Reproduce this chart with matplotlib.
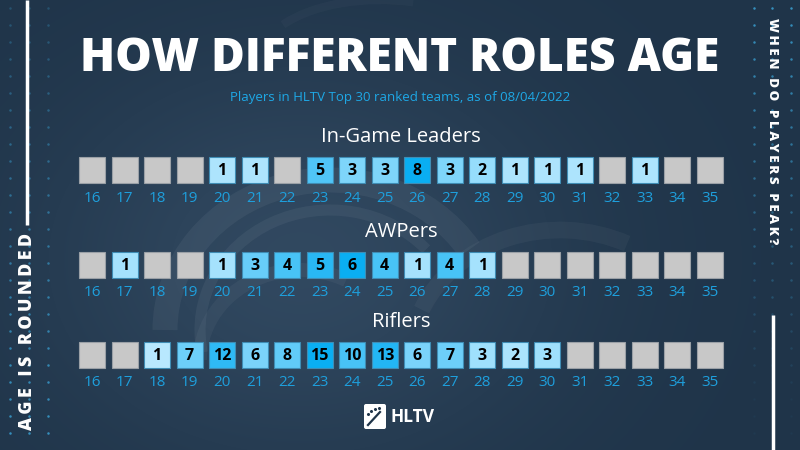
import numpy as np
import matplotlib
matplotlib.use('Agg')
import matplotlib.pyplot as plt
from matplotlib.patches import FancyBboxPatch, Arc
from matplotlib.colors import to_rgb

plt.rcParams['font.family'] = ['Open Sans', 'DejaVu Sans']

# data: number of players per (rounded) age, by role
ages = list(range(16, 36))
roles = ['In-Game Leaders', 'AWPers', 'Riflers']
igl_counts = [0, 0, 0, 0, 1, 1, 0, 5, 3, 3, 8, 3, 2, 1, 1, 1, 0, 1, 0, 0]
awp_counts = [0, 1, 0, 0, 1, 3, 4, 5, 6, 4, 1, 4, 1, 0, 0, 0, 0, 0, 0, 0]
rifler_counts = [0, 0, 1, 7, 12, 6, 8, 15, 10, 13, 6, 7, 3, 2, 3, 0, 0, 0, 0, 0]
title = 'HOW DIFFERENT ROLES AGE'
subtitle = 'Players in HLTV Top 30 ranked teams, as of 08/04/2022'
left_note = 'AGE IS ROUNDED'
right_note = 'WHEN DO PLAYERS PEAK?'

BG = '#1f3449'
LIGHT = np.array(to_rgb('#c4ecff'))
DARK = np.array(to_rgb('#0aaef2'))
EMPTY = '#c8c8c8'
TICK = '#1e9fdc'


def cell_color(v, vmax):
    if v == 0:
        return EMPTY
    t = v / vmax
    return tuple(LIGHT + (DARK - LIGHT) * t)


def spaced(s):
    return '\u2009'.join(s)


fig = plt.figure(figsize=(8, 4.5), dpi=100, facecolor=BG)

# background / decoration axes in pixel units
bg = fig.add_axes([0, 0, 1, 1], zorder=0)
bg.set_xlim(0, 800)
bg.set_ylim(450, 0)
bg.axis('off')

yy, xx = np.mgrid[0:450, 0:800]
glow = np.exp(-(((xx - 300) / 260) ** 2 + ((yy - 260) / 200) ** 2))
base = np.array(to_rgb(BG))
img = base[None, None, :] + glow[..., None] * np.array([0.07, 0.08, 0.09])
bg.imshow(np.clip(img, 0, 1), extent=(0, 800, 450, 0), zorder=0, aspect='auto')

# soft swirl wisps
for cx, cy, w, h, t1, t2, lw, al in [(330, 330, 330, 300, 180, 330, 18, 0.05),
                                      (330, 330, 260, 240, 170, 320, 8, 0.05),
                                      (300, 360, 200, 180, 180, 300, 10, 0.04),
                                      (560, 360, 300, 260, 200, 300, 12, 0.04),
                                      (380, 60, 240, 120, 200, 300, 6, 0.025)]:
    bg.add_patch(Arc((cx, cy), w, h, theta1=t1, theta2=t2, color='white',
                     lw=lw, alpha=al, zorder=1))

# dotted side strips
dot_rows = np.arange(8, 450, 17)
for x in [10, 29, 48]:
    for y in dot_rows:
        a = 0.25 + 0.6 * y / 450
        bg.plot(x, y, 'o', ms=1.8, color='#3aa3d6', alpha=a, mec='none', zorder=2)
for x in [754, 772, 791]:
    for y in dot_rows:
        a = max(0.05, 0.85 - 0.9 * y / 450)
        bg.plot(x, y, 'o', ms=1.8, color='#3aa3d6', alpha=a, mec='none', zorder=2)

bg.plot([27, 27], [0, 225], color='white', lw=2.5, solid_capstyle='butt', zorder=3)
bg.plot([773, 773], [315, 450], color='white', lw=2.5, solid_capstyle='butt', zorder=3)

ttl = bg.text(400, 71, title, color='white', fontsize=36, fontweight='heavy',
              ha='center', va='baseline', zorder=4)
bg.text(400, 101, subtitle, color='#1ea8e6', fontsize=9.5,
        ha='center', va='baseline', zorder=4)
ln = bg.text(28, 332, spaced(left_note), color='white', fontsize=10.5,
             fontweight='heavy', rotation=90, ha='center', va='center', zorder=4)
rn = bg.text(772, 131, spaced(right_note), color='white', fontsize=10.5,
             fontweight='heavy', rotation=-90, ha='center', va='center', zorder=4)

# HLTV logo
bg.add_patch(FancyBboxPatch((364, 404), 22, 25, boxstyle='round,pad=0,rounding_size=2',
                            fc='white', ec='none', zorder=4))
bg.plot([368, 380], [425, 412], color=BG, lw=1.6, zorder=5)
for dx, dy in [(368, 414), (371, 411), (375, 409), (379, 408)]:
    bg.plot(dx, dy, 'o', ms=1.2, color=BG, zorder=5)
bg.text(391, 417, 'HLTV', color='white', fontsize=12.5, fontweight='bold',
        ha='left', va='center', zorder=4)

# grid axes: x in ages, y in pixels
ax = fig.add_axes([0, 0, 1, 1], zorder=1)
ax.patch.set_alpha(0)
px = (35 - 16) / (710 - 92)
x0 = 16 - 92 * px
ax.set_xlim(x0, x0 + 800 * px)
ax.set_ylim(450, 0)
ax.axis('off')

row_y = [170, 264.5, 354.5]
box_h = 26
box_w = 26 * px
mid_age = (ages[0] + ages[-1]) / 2

for name, counts, y in zip(roles, [igl_counts, awp_counts, rifler_counts], row_y):
    vmax = max(counts)
    colors = [cell_color(v, vmax) for v in counts]
    edges = ['#9aa0a6' if v == 0 else '#3f8db5' for v in counts]
    ax.bar(ages, box_h, bottom=y - box_h / 2, width=box_w, color=colors,
           edgecolor=edges, linewidth=0.8, zorder=3)
    for a, v in zip(ages, counts):
        if v:
            ax.text(a, y + 1, str(v), color='black', fontsize=11.5, fontweight='bold',
                    ha='center', va='center', zorder=4)
        ax.text(a, y + 28.5, str(a), color=TICK, fontsize=11,
                ha='center', va='center', zorder=4)
    ax.text(mid_age, y - 32.5, name, color='white', fontsize=14.5,
            ha='center', va='center', zorder=4)

# fit title and side notes to the widths in the original
fig.canvas.draw()
r = fig.canvas.get_renderer()
w = ttl.get_window_extent(r).width
ttl.set_fontsize(36 * 640 / w)
h = ln.get_window_extent(r).height
ln.set_fontsize(10.5 * 197 / h)
h = rn.get_window_extent(r).height
rn.set_fontsize(10.5 * 228 / h)

fig.savefig('out.png', dpi=100, facecolor=BG)
